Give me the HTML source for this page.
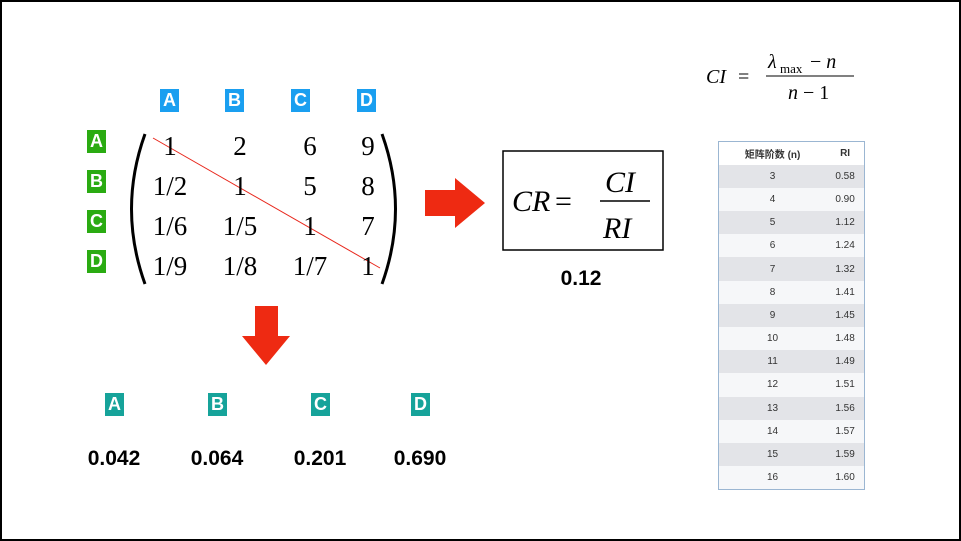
<html><head><style>
body{margin:0;width:961px;height:541px;background:#fff;position:relative;overflow:hidden;font-family:"Liberation Sans",sans-serif}
.frame{position:absolute;left:0;top:0;width:957px;height:537px;border:2px solid #000}
.lb{position:absolute;width:19px;height:23px;color:#fff;font-weight:bold;font-size:18px;text-align:center;line-height:23px}
.bl{background:#1a9ff0}.gr{background:#2aab12}.te{background:#16a39a}
.m{position:absolute;font-family:"Liberation Serif",serif;font-size:27px;transform:translateX(-50%)}
.v{position:absolute;font-weight:bold;font-size:21px;transform:translateX(-50%)}
table{position:absolute;left:718px;top:141px;width:147px;border:1px solid #9bb6d2;border-collapse:collapse;font-size:10px;color:#333}
td{height:23.2px;text-align:center;padding:0}
tr:nth-child(even) td{background:#e3e4e8}tr:nth-child(odd) td{background:#f6f7f9}
tr:first-child td{background:#fff;font-weight:bold;font-family:"Liberation Sans","Noto Sans CJK SC",sans-serif}
</style></head><body>
<div class="frame"></div>
<div class="lb bl" style="left:160px;top:89px">A</div>
<div class="lb bl" style="left:225px;top:89px">B</div>
<div class="lb bl" style="left:291px;top:89px">C</div>
<div class="lb bl" style="left:357px;top:89px">D</div>
<div class="lb gr" style="left:87px;top:130px">A</div>
<div class="lb gr" style="left:87px;top:170px">B</div>
<div class="lb gr" style="left:87px;top:210px">C</div>
<div class="lb gr" style="left:87px;top:250px">D</div>
<svg style="position:absolute;left:0;top:0" width="961" height="541">
<path d="M145 134 Q118 209 145 284" stroke="#000" stroke-width="3" fill="none"/>
<path d="M382 134 Q409 209 382 284" stroke="#000" stroke-width="3" fill="none"/>
<line x1="153" y1="138" x2="380" y2="268" stroke="#e8261b" stroke-width="1"/>
<polygon points="425,190 455,190 455,178 485,203 455,228 455,216 425,216" fill="#ee2a12"/>
<polygon points="255,306 278,306 278,336 290,336 266,365 242,336 255,336" fill="#ee2a12"/>
<rect x="503" y="151" width="160" height="99" fill="none" stroke="#000" stroke-width="1.5"/>
<g font-family="Liberation Serif,serif" font-style="italic" font-size="30">
<text x="512" y="211">CR</text><text x="555" y="211" font-style="normal">=</text>
<text x="605" y="192">CI</text><line x1="600" y1="201" x2="650" y2="201" stroke="#000" stroke-width="1.5"/><text x="603" y="238">RI</text>
</g>
<g font-family="Liberation Serif,serif" font-size="20">
<text x="706" y="83" font-style="italic">CI</text><text x="738" y="83">=</text>
<text x="768" y="68" font-style="italic">λ</text><text x="780" y="73" font-size="13">max</text><text x="810" y="68">− <tspan font-style="italic">n</tspan></text>
<line x1="766" y1="76" x2="854" y2="76" stroke="#000" stroke-width="1"/>
<text x="788" y="99" font-style="italic">n</text><text x="803" y="99">− 1</text>
</g>
</svg>
<div class="m" style="left:170px;top:131px">1</div><div class="m" style="left:240px;top:131px">2</div><div class="m" style="left:310px;top:131px">6</div><div class="m" style="left:368px;top:131px">9</div>
<div class="m" style="left:170px;top:171px">1/2</div><div class="m" style="left:240px;top:171px">1</div><div class="m" style="left:310px;top:171px">5</div><div class="m" style="left:368px;top:171px">8</div>
<div class="m" style="left:170px;top:211px">1/6</div><div class="m" style="left:240px;top:211px">1/5</div><div class="m" style="left:310px;top:211px">1</div><div class="m" style="left:368px;top:211px">7</div>
<div class="m" style="left:170px;top:251px">1/9</div><div class="m" style="left:240px;top:251px">1/8</div><div class="m" style="left:310px;top:251px">1/7</div><div class="m" style="left:368px;top:251px">1</div>
<div class="v" style="left:581px;top:267px">0.12</div>
<div class="lb te" style="left:105px;top:393px">A</div>
<div class="lb te" style="left:208px;top:393px">B</div>
<div class="lb te" style="left:311px;top:393px">C</div>
<div class="lb te" style="left:411px;top:393px">D</div>
<div class="v" style="left:114px;top:447px">0.042</div>
<div class="v" style="left:217px;top:447px">0.064</div>
<div class="v" style="left:320px;top:447px">0.201</div>
<div class="v" style="left:420px;top:447px">0.690</div>
<table>
<tr><td>矩阵阶数 (n)</td><td>RI</td></tr>
<tr><td>3</td><td>0.58</td></tr><tr><td>4</td><td>0.90</td></tr><tr><td>5</td><td>1.12</td></tr><tr><td>6</td><td>1.24</td></tr>
<tr><td>7</td><td>1.32</td></tr><tr><td>8</td><td>1.41</td></tr><tr><td>9</td><td>1.45</td></tr><tr><td>10</td><td>1.48</td></tr>
<tr><td>11</td><td>1.49</td></tr><tr><td>12</td><td>1.51</td></tr><tr><td>13</td><td>1.56</td></tr><tr><td>14</td><td>1.57</td></tr>
<tr><td>15</td><td>1.59</td></tr><tr><td>16</td><td>1.60</td></tr>
</table>
</body></html>
